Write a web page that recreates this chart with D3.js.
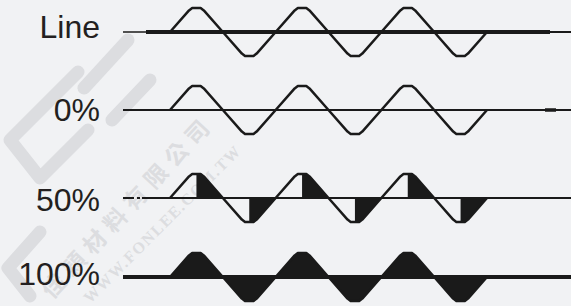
<!DOCTYPE html>
<html>
<head>
<meta charset="utf-8">
<script src="https://cdn.jsdelivr.net/npm/d3@7"></script>
<style>
  html, body { margin: 0; padding: 0; background: #f1f2f4; }
  svg { display: block; }
</style>
</head>
<body>
<div id="chart"></div>
<script>
// rows of the figure
const rowLabels = ["Line", "0%", "50%", "100%"];
const fillModes = ["none", "none", "half", "full"];

// one wave lobe (half period): phase 0..1 and level 0..1 (trapezoid-like)
const lobePhase = [0, 0.36, 0.42, 0.5, 0.58, 0.64, 1];
const lobeLevel = [0, 0.9, 1, 1, 1, 0.9, 0];
// sign of each lobe, 3 full periods
const lobeSigns = [1, -1, 1, -1, 1, -1];

// watermark text
const markCn = "佳穎材料有限公司";
const markEn = "WWW.FONLEE.COM.TW";

const width = 571, height = 306;

const svg = d3.select("#chart").append("svg")
  .attr("width", width)
  .attr("height", height);

svg.append("rect").attr("width", width).attr("height", height).attr("fill", "#f1f2f4");

// ---- faint watermark (logo + company text)
const wm = svg.append("g").attr("fill", "none").attr("stroke", "#dcdde0")
  .attr("stroke-width", 13).attr("stroke-linecap", "round").attr("stroke-linejoin", "round");
wm.append("path").attr("d", "M128,40 L84,88");
wm.append("path").attr("d", "M150,80 L112,120");
wm.append("path").attr("d", "M78,72 L10,140 L40,178 M40,178 L88,130");
wm.append("path").attr("d", "M40,232 L8,268 L30,296");
svg.append("text")
  .attr("transform", "translate(52,300) rotate(-47)")
  .attr("font-family", "Noto Sans CJK TC")
  .attr("font-size", 23).attr("font-weight", "bold")
  .attr("fill", "#dcdde0").attr("letter-spacing", 7)
  .text(markCn);
svg.append("text")
  .attr("transform", "translate(90,304) rotate(-45)")
  .attr("font-family", "Liberation Serif")
  .attr("font-size", 16).attr("font-weight", "bold")
  .attr("fill", "#dcdde0").attr("letter-spacing", 1.5)
  .text(markEn);

// ---- scales
const x = d3.scaleLinear().domain([0, lobeSigns.length]).range([170, 487]);
const rowY = d3.scaleOrdinal().domain(rowLabels).range([32, 110, 198, 277]);
const labelDy = d3.scaleOrdinal().domain(rowLabels).range([6, 11, 13, 8]);
const amp = 24;

// baseline styles per row: [x0, x1, width, dash]
const baseSegs = {
  "Line": [[123, 146, 1.5], [146, 550, 4], [550, 571, 2]],
  "0%": [[123, 571, 2], [545, 556, 3.5]],
  "50%": [[123, 571, 2, "11,3,3,2,2000"]],
  "100%": [[123, 571, 4]]
};

// build the wave points from lobe keys
function wavePoints() {
  const pts = [];
  lobeSigns.forEach((s, i) => {
    lobePhase.forEach((p, k) => {
      if (i > 0 && k === 0) return;
      pts.push([i + p, s * lobeLevel[k]]);
    });
  });
  return pts;
}
const pts = wavePoints();

rowLabels.forEach((label, r) => {
  const y0 = rowY(label);
  const y = d3.scaleLinear().domain([-1, 1]).range([y0 + amp, y0 - amp]);
  const g = svg.append("g");

  // label
  g.append("text")
    .attr("x", 100)
    .attr("y", y0 + labelDy(label))
    .attr("text-anchor", "end")
    .attr("font-family", "Liberation Sans, Arial, sans-serif")
    .attr("font-size", 32)
    .attr("fill", "#231f20")
    .text(label);

  // fills
  const area = d3.area().x(d => x(d[0])).y0(y(0)).y1(d => y(d[1]));
  if (fillModes[r] === "full") {
    g.append("path").datum(pts).attr("d", area).attr("fill", "#1a1a1a");
  } else if (fillModes[r] === "half") {
    lobeSigns.forEach((s, i) => {
      const half = lobePhase.map((p, k) => [i + p, s * lobeLevel[k]])
        .filter(d => d[0] >= i + 0.5);
      half.unshift([i + 0.5, 0]);
      g.append("path").datum(half).attr("d", area).attr("fill", "#1a1a1a");
    });
  }

  // baseline
  baseSegs[label].forEach(sg => {
    g.append("line")
      .attr("x1", sg[0]).attr("x2", sg[1])
      .attr("y1", y0).attr("y2", y0)
      .attr("stroke", "#1a1a1a")
      .attr("stroke-width", sg[2])
      .attr("stroke-dasharray", sg[3] || null);
  });

  // wave outline
  const line = d3.line().x(d => x(d[0])).y(d => y(d[1]));
  g.append("path").datum(pts)
    .attr("d", line)
    .attr("fill", "none")
    .attr("stroke", "#1a1a1a")
    .attr("stroke-width", 2.5)
    .attr("stroke-linejoin", "round");
});
</script>
</body>
</html>
